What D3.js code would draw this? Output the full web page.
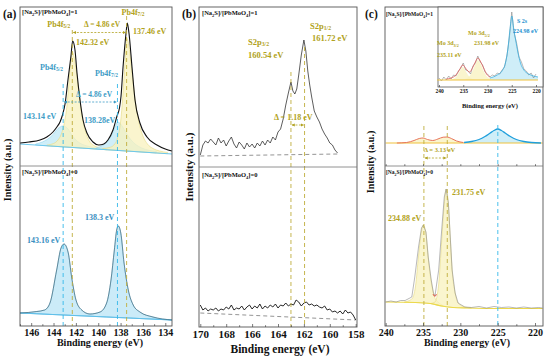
<!DOCTYPE html>
<html>
<head>
<meta charset="utf-8">
<script src="https://cdn.jsdelivr.net/npm/d3@7"></script>
<style>body{margin:0;background:#fff}</style>
</head>
<body>
<svg id="chart"></svg>
<script>
// ---- data: [binding energy (eV), intensity (a.u.)] ----
const aTicks = [146, 144, 142, 140, 138, 136, 134];
const aMinor = [147, 145, 143, 141, 139, 137, 135];
const bTicks = [170, 168, 166, 164, 162, 160, 158];
const bMinor = [169, 167, 165, 163, 161, 159];
const cTicks = [240, 235, 230, 225, 220];
const cMinor = [237.5, 232.5, 227.5, 222.5];
const insetTicks = [240, 235, 230, 225, 220];

const aCyanLines = [143.14, 138.28];
const aOliveLines = [142.32, 137.46];
const bOliveLines = [163.0, 161.95];
const cOliveLines = [234.88, 231.75];
const cCyanLines = [224.98];

// (a) upper, [Na2S]/[PbMoO4]=1
const aTopBase = [[147.0, 22], [133.4, 12]];
const aTopEnvelope = [[147.0,23],[146.2,24],[145.21,26],[144.6,29],[144.05,34],[143.7,39],[143.42,44],[143.2,51],
  [142.97,62],[142.71,86],[142.44,110],[142.29,125],[142.08,116],[141.9,93],[141.63,66],[141.36,46],[141.01,33],
  [140.47,24],[139.95,21],[139.5,22],[139.13,26],[138.68,36],[138.32,50],[138.1,58],[137.96,70],[137.78,99],
  [137.51,133],[137.4,143],[137.25,133],[136.98,99],[136.71,66],[136.27,43],[135.64,29],[134.75,21],[134.0,17],[133.4,15]];
const aTopYellow52 = [[144.6,21],[144.0,22.5],[143.6,26],[143.3,32],[143.0,45],[142.8,60],[142.6,86],[142.45,106],
  [142.32,114],[142.18,110],[142.0,98],[141.8,80],[141.6,62],[141.4,47],[141.1,33],[140.8,25],[140.4,20.5],[139.9,18.5],[139.2,17.5]];
const aTopCyan52 = [[145.6,22],[145.0,24],[144.5,27],[144.0,32],[143.6,37.5],[143.14,40],[142.7,37],[142.3,30],
  [141.9,25],[141.4,21.5],[140.8,19.5],[140.2,18]];
const aTopYellow72 = [[139.6,17.5],[139.0,18.5],[138.6,21],[138.3,27],[138.0,44],[137.8,70],[137.6,105],[137.46,128],
  [137.32,124],[137.12,108],[136.9,86],[136.65,62],[136.35,43],[136.0,30],[135.6,22],[135.1,17.5],[134.5,15],[133.8,13.5]];
const aTopCyan72 = [[140.2,18],[139.7,20],[139.2,24],[138.8,31],[138.5,39],[138.28,44],[138.0,42],[137.6,35],
  [137.2,28],[136.7,22],[136.1,18],[135.4,15.5],[134.8,14.5]];

// (a) lower, [Na2S]/[PbMoO4]=0
const aBotBase = [[147.0, 13], [133.4, 6]];
const aBotPeaks = [[147.0,13],[145.5,14.5],[144.8,16],[144.32,23],[143.72,56],[143.33,78],[143.06,82],[142.68,73],
  [142.38,49],[141.99,26],[141.48,16],[140.74,12],[139.84,14],[139.25,23],[138.86,46],[138.56,76],[138.35,96],
  [138.21,100],[137.98,93],[137.69,63],[137.31,36],[136.87,21],[136.27,14],[135.1,9],[133.4,6]];

// (b) upper and lower
const bTopBase = [[170.0, 11], [159.4, 13]];
const bTopSpectrum = [[170.0,12],[169.8,22],[169.6,26],[169.4,24],[169.2,28],[169.0,25],[168.8,22],[168.6,29],
  [168.4,24],[168.2,27],[168.0,21],[167.8,26],[167.6,30],[167.4,23],[167.2,19],[167.0,25],[166.8,22],[166.6,18],
  [166.4,24],[166.2,20],[166.0,23],[165.8,19],[165.6,24],[165.4,21],[165.2,26],[165.0,22],[164.8,27],[164.6,24],
  [164.4,30],[164.2,27],[164.0,35],[163.8,38],[163.6,48],[163.4,62],[163.2,74],[163.0,85],[162.85,76],[162.7,73],
  [162.55,78],[162.4,92],[162.2,112],[162.0,127],[161.85,116],[161.7,96],[161.55,82],[161.4,70],[161.2,56],
  [161.0,50],[160.8,45],[160.6,38],[160.4,33],[160.2,29],[160.0,24],[159.8,22],[159.6,17],[159.4,14]];
const bBotBase = [[170.0, 14], [158.0, 7]];
const bBotSpectrum = [[170.0,22],[169.8,17],[169.6,19],[169.4,16],[169.2,18],[169.0,17],[168.8,19],[168.6,16],
  [168.4,18],[168.2,17],[168.0,20],[167.8,18],[167.6,22],[167.4,17],[167.2,19],[167.0,18],[166.8,21],[166.6,17],
  [166.4,20],[166.2,22],[166.0,18],[165.8,21],[165.6,19],[165.4,23],[165.2,18],[165.0,21],[164.8,19],[164.6,22],
  [164.4,20],[164.2,23],[164.0,19],[163.8,22],[163.6,21],[163.4,24],[163.2,21],[163.0,23],[162.8,22],[162.6,27],
  [162.4,25],[162.2,21],[162.0,24],[161.8,25],[161.6,22],[161.4,23],[161.2,21],[161.0,22],[160.8,20],[160.6,19],
  [160.4,21],[160.2,17],[160.0,18],[159.8,15],[159.6,16],[159.4,14],[159.2,16],[159.0,13],[158.8,17],[158.6,14],
  [158.4,15],[158.2,12],[158.0,7]];

// (c) upper main
const cTopBase = [[240.0, 23], [219.0, 23]];
const cTopS2s = [[229.5,23.5],[228.5,24.5],[227.5,26.5],[226.7,29.5],[226.0,33],[225.5,35.5],[224.98,37],[224.5,35.5],
  [224.0,33],[223.3,29.5],[222.5,26.5],[221.5,24.5],[220.5,23.5],[219.2,23]];
const cTopMo = [[238.5,23],[237.2,23.5],[236.2,25.5],[235.5,27.5],[235.0,28],[234.4,26.5],[233.7,25.5],[233.0,27],
  [232.3,28.8],[231.8,29],[231.2,27.5],[230.5,25],[229.6,23.5]];

// (c) inset
const cInsetBase = [[240.4, 7], [219.6, 7]];
const cInsetRaw = [[240,9],[239.5,6],[239,10],[238.5,7],[238,11],[237.5,8],[237,12],[236.5,11],[236,16],[235.5,19],
  [235,24],[234.5,17],[234,16],[233.5,13],[233,21],[232.5,24],[232,31],[231.5,25],[231,22],[230.5,15],[230,13],
  [229.5,10],[229,12],[228.5,11],[228,14],[227.5,13],[227,17],[226.5,20],[226,31],[225.5,49],[225,75],[224.5,54],
  [224,44],[223.5,30],[223,25],[222.5,18],[222,16],[221.5,12],[221,14],[220.5,9],[220,13]];
const cInsetS2s = [[229.5,9],[228,12],[227,16],[226.3,24],[225.8,38],[225.4,56],[224.98,71],[224.6,58],[224.2,47],
  [223.7,34],[223.2,24],[222.5,17],[221.5,13],[220.5,11],[219.6,10]];
const cInsetMo = [[238.5,8],[237.5,9],[236.5,12],[235.8,17],[235.1,22],[234.4,18],[233.7,15],[233.0,20],[232.4,26],
  [232.0,29],[231.5,26],[230.8,19],[230.2,13],[229.5,10]];
const cInsetMo32 = [[237.5,7.5],[236.5,10],[235.8,15],[235.1,20],[234.4,15],[233.7,10],[233.0,8],[232.2,7]];
const cInsetMo52 = [[234.5,8],[233.7,11],[233.0,17],[232.4,24],[232.0,27],[231.5,24],[230.8,16],[230.2,11],[229.5,8.5],[228.8,7.5]];

// (c) lower
const cBotBase = [[240,24],[236,23.5],[234,22.5],[232.5,20],[231,18.5],[229,18],[225,17.5],[219,17.5]];
const cBotMo32 = [[237.5,24],[236.5,27],[236.0,40],[235.6,70],[235.2,95],[234.96,101],[234.6,92],[234.3,68],
  [233.9,44],[233.5,30],[233.0,24],[232.4,21]];
const cBotMo52 = [[234.0,22.5],[233.4,24],[232.9,42],[232.5,85],[232.15,122],[231.9,137],[231.6,122],[231.35,88],
  [231.1,56],[230.7,33],[230.3,23],[229.4,19],[228.5,18]];
const cBotFit = [[233.65,32],[233.5,30],[233.35,30],[233.2,32]];
const cBotData = [[240,24],[239.3,25],[238.6,24],[238,25.5],[237.4,25.5],[236.5,29],[236.1,49],[235.6,79],[235.2,98],
  [234.96,101],[234.6,94],[234.3,69],[233.9,46],[233.6,33],[233.4,30],[232.9,56],[232.5,96],[232.15,129],[231.9,137],
  [231.6,123],[231.35,89],[231.1,56],[230.7,33],[230.3,23],[229.4,19],[228.5,18.5],[227.5,19.5],[226.5,18],
  [225.5,19.5],[224.5,18.5],[223.5,19],[222.5,18],[221.5,19],[220.5,18],[219.5,18.5],[219,18]];

// ---- drawing ----
const SERIF = "'Liberation Serif','Times New Roman',serif";
const OLIVE = "#b1a220", OLIVE_LINE = "#bfae3c";
const CYAN_TXT = "#3d9cc6", CYAN_LINE = "#36b9ea", CYAN_FILL = "#bfe8f6";
const YEL_FILL = "#f8f2bd", YEL_STROKE = "#e6da80";

const svg = d3.select("#chart").attr("width", 550).attr("height", 359);
const defs = svg.append("defs");
function marker(id, color) {
  defs.append("marker").attr("id", id).attr("viewBox", "0 0 10 10")
    .attr("refX", 9).attr("refY", 5).attr("markerWidth", 4).attr("markerHeight", 4)
    .attr("orient", "auto-start-reverse")
    .append("path").attr("d", "M0,0L10,5L0,10z").attr("fill", color);
}
marker("arrOlive", OLIVE);
marker("arrCyan", CYAN_TXT);

const xa = d3.scaleLinear().domain([147.0, 133.4]).range([20, 172]);
const xb = d3.scaleLinear().domain([170.1, 157.9]).range([199, 357]);
const xc = d3.scaleLinear().domain([240.09, 218.93]).range([385, 543]);
const xi = d3.scaleLinear().domain([240, 220]).range([439, 536]);
const ya1 = d3.scaleLinear().domain([0, 159]).range([166, 7]);
const ya2 = d3.scaleLinear().domain([0, 160]).range([326, 166]);
const yb1 = d3.scaleLinear().domain([0, 160]).range([167, 7]);
const yb2 = d3.scaleLinear().domain([0, 160]).range([327, 167]);
const yc1 = d3.scaleLinear().domain([0, 159]).range([166, 7]);
const yc2 = d3.scaleLinear().domain([0, 160]).range([326, 166]);
const yi = d3.scaleLinear().domain([0, 80]).range([87, 7]);

function line(g, data, x, y, color, w, curve) {
  return g.append("path").datum(data)
    .attr("d", d3.line().x(d => x(d[0])).y(d => y(d[1])).curve(curve || d3.curveMonotoneX))
    .attr("fill", "none").attr("stroke", color).attr("stroke-width", w);
}
function fill(g, data, base, x, y, color, stroke) {
  const b = d3.scaleLinear().domain(base.map(d => d[0])).range(base.map(d => d[1]));
  return g.append("path").datum(data)
    .attr("d", d3.area().x(d => x(d[0])).y0(d => y(b(d[0]))).y1(d => y(d[1])).curve(d3.curveMonotoneX))
    .attr("fill", color).attr("fill-opacity", 0.75)
    .attr("stroke", stroke || "none").attr("stroke-width", 0.6);
}
function vdash(g, x, e, y0, y1, color) {
  g.append("line").attr("x1", x(e)).attr("x2", x(e)).attr("y1", y0).attr("y2", y1)
    .attr("stroke", color).attr("stroke-width", 0.9).attr("stroke-dasharray", "4,3");
}
function arrow(g, x0, x1, y, color, id) {
  g.append("line").attr("x1", x0).attr("x2", x1).attr("y1", y).attr("y2", y)
    .attr("stroke", color).attr("stroke-width", 0.8).attr("stroke-dasharray", "2,1.5")
    .attr("marker-start", `url(#${id})`).attr("marker-end", `url(#${id})`);
}
function rich(g, x, y, parts, size, color, anchor) {
  const t = g.append("text").attr("x", x).attr("y", y)
    .attr("font-family", SERIF).attr("font-weight", "bold").attr("font-size", size)
    .attr("fill", color || "#111").attr("text-anchor", anchor || "start")
    .attr("dominant-baseline", "middle");
  let down = false;
  parts.forEach(p => {
    const sub = Array.isArray(p);
    const s = t.append("tspan").text(sub ? p[0] : p);
    if (sub) { s.attr("font-size", size * 0.68).attr("dy", size * 0.28); down = true; }
    else if (down) { s.attr("dy", -size * 0.28); down = false; }
  });
  return t;
}
function ratio(v) { return ["[Na", ["2"], "S]/[PbMoO", ["4"], "]=" + v]; }
function bottomAxis(g, x, y, major, minor, size, pad, len) {
  const ax = g.append("g").attr("transform", `translate(0,${y})`)
    .call(d3.axisBottom(x).tickValues(major).tickSize(-len).tickPadding(pad).tickFormat(d3.format("d")));
  ax.select(".domain").remove();
  ax.selectAll("line").attr("stroke", "#444").attr("stroke-width", 0.7);
  ax.selectAll("text").attr("font-family", SERIF).attr("font-weight", "bold").attr("font-size", size).attr("fill", "#111");
  if (minor.length) {
    const mx = g.append("g").attr("transform", `translate(0,${y})`)
      .call(d3.axisBottom(x).tickValues(minor).tickSize(-len * 0.6).tickFormat(""));
    mx.select(".domain").remove();
    mx.selectAll("line").attr("stroke", "#444").attr("stroke-width", 0.7);
  }
  return ax;
}
function frame(g, x0, x1, y0, y1, ymid) {
  g.append("rect").attr("x", x0).attr("y", y0).attr("width", x1 - x0).attr("height", y1 - y0)
    .attr("fill", "none").attr("stroke", "#555").attr("stroke-width", 0.9);
  g.append("line").attr("x1", x0).attr("x2", x1).attr("y1", ymid).attr("y2", ymid)
    .attr("stroke", "#777").attr("stroke-width", 0.8);
}
function title(g, x, y, txt, size, rot) {
  const t = g.append("text").attr("text-anchor", "middle").attr("dominant-baseline", "middle")
    .attr("font-family", SERIF).attr("font-weight", "bold").attr("font-size", size).attr("fill", "#111").text(txt);
  if (rot) t.attr("transform", `translate(${x},${y}) rotate(-90)`);
  else t.attr("x", x).attr("y", y);
}

// ===== panel (a) =====
const ga = svg.append("g");
fill(ga, aTopCyan52, aTopBase, xa, ya1, CYAN_FILL, "#8fd3ef");
fill(ga, aTopYellow52, aTopBase, xa, ya1, YEL_FILL, YEL_STROKE);
fill(ga, aTopCyan72, aTopBase, xa, ya1, CYAN_FILL, "#8fd3ef");
fill(ga, aTopYellow72, aTopBase, xa, ya1, YEL_FILL, YEL_STROKE);
line(ga, aTopBase, xa, ya1, "#6cc8ee", 1, d3.curveLinear);
line(ga, aTopEnvelope, xa, ya1, "#111", 1.1);
fill(ga, aBotPeaks, aBotBase, xa, ya2, "#b9e4f5", "#3ba6d6");
line(ga, aBotBase, xa, ya2, "#5fc0ea", 1, d3.curveLinear);
line(ga, aBotPeaks, xa, ya2, "#333", 0.6).attr("stroke-opacity", 0.7);

aCyanLines.forEach(e => vdash(ga, xa, e, ya1(82), ya2(0), CYAN_LINE));
vdash(ga, xa, aOliveLines[0], ya1(136), ya2(0), OLIVE_LINE);
vdash(ga, xa, aOliveLines[1], ya1(150), ya2(0), OLIVE_LINE);

rich(ga, xa(137.46) - 5, 13, ["Pb4f", ["7/2"]], 8, OLIVE);
rich(ga, xa(142.32) - 25, 25, ["Pb4f", ["5/2"]], 8, OLIVE);
rich(ga, 84, 25, ["Δ = 4.86 eV"], 7.5, OLIVE);
arrow(ga, xa(142.32) + 1, xa(137.46) - 1, 32.5, OLIVE, "arrOlive");
rich(ga, 133, 32, ["137.46 eV"], 8, OLIVE);
rich(ga, 76, 43, ["142.32 eV"], 8, OLIVE);

rich(ga, 40, 68, ["Pb4f", ["5/2"]], 8, CYAN_TXT);
rich(ga, 95, 74, ["Pb4f", ["7/2"]], 8, CYAN_TXT);
rich(ga, 76, 95, ["Δ = 4.86 eV"], 7.5, CYAN_TXT);
arrow(ga, xa(143.14) + 1, xa(138.28) - 1, 102, CYAN_TXT, "arrCyan");
rich(ga, 23, 117, ["143.14 eV"], 8, CYAN_TXT);
rich(ga, 84, 121, ["138.28eV"], 8, CYAN_TXT);
rich(ga, 27, 241, ["143.16 eV"], 8, "#3a8fbf");
rich(ga, 85, 218, ["138.3 eV"], 8, "#3a8fbf");

frame(ga, 20, 172, 7, 326, 166);
rich(ga, 22, 13, ratio(1), 6.5);
rich(ga, 22, 173, ratio(0), 6.5);
bottomAxis(ga, xa, 326, aTicks, aMinor, 10, 3, 3);
title(ga, 100, 344, "Binding energy (eV)", 10);
title(ga, 9, 170, "Intensity (a.u.)", 10, true);
rich(ga, 3, 15, ["(a)"], 11.5);

// ===== panel (b) =====
const gb = svg.append("g");
line(gb, bTopBase, xb, yb1, "#888", 0.9, d3.curveLinear).attr("stroke-dasharray", "4,3");
line(gb, bTopSpectrum, xb, yb1, "#333", 0.8, d3.curveLinear);
line(gb, bBotBase, xb, yb2, "#888", 0.9, d3.curveLinear).attr("stroke-dasharray", "4,3");
line(gb, bBotSpectrum, xb, yb2, "#111", 0.9, d3.curveLinear);
vdash(gb, xb, bOliveLines[0], yb1(95), yb2(0), OLIVE_LINE);
vdash(gb, xb, bOliveLines[1], yb1(120), yb2(0), OLIVE_LINE);

rich(gb, 310, 27, ["S2p", ["1/2"]], 8.5, OLIVE);
rich(gb, 312, 39, ["161.72 eV"], 8.5, OLIVE);
rich(gb, 248, 43, ["S2p", ["3/2"]], 8.5, OLIVE);
rich(gb, 248, 56, ["160.54 eV"], 8.5, OLIVE);
rich(gb, 274, 118, ["Δ = 1.18 eV"], 8, OLIVE);
arrow(gb, xb(bOliveLines[0]) + 1, xb(bOliveLines[1]) - 1, 125, OLIVE, "arrOlive");

frame(gb, 199, 357, 7, 327, 167);
rich(gb, 202, 14, ratio(1), 6.5);
rich(gb, 202, 176, ratio(0), 6.5);
bottomAxis(gb, xb, 327, bTicks, bMinor, 11, 3, 3);
title(gb, 280, 350, "Binding energy (eV)", 11.5);
title(gb, 190, 167, "Intensity (a.u.)", 11, true);
rich(gb, 182, 15, ["(b)"], 11.5);

// ===== panel (c) =====
const gc = svg.append("g");
fill(gc, cTopS2s, cTopBase, xc, yc1, CYAN_FILL);
fill(gc, cTopMo, cTopBase, xc, yc1, YEL_FILL);
line(gc, cTopBase, xc, yc1, "#efc23c", 1.2, d3.curveLinear);
line(gc, cTopMo, xc, yc1, "#e8745a", 1);
line(gc, cTopS2s, xc, yc1, "#1f9fdc", 1.3);

fill(gc, cBotMo32, cBotBase, xc, yc2, YEL_FILL, YEL_STROKE);
fill(gc, cBotMo52, cBotBase, xc, yc2, YEL_FILL, YEL_STROKE);
line(gc, cBotBase, xc, yc2, "#ecd94a", 1.2);
line(gc, cBotData, xc, yc2, "#8a8a8a", 0.6, d3.curveLinear);
line(gc, cBotFit, xc, yc2, "#e0463c", 0.9);

cOliveLines.forEach(e => vdash(gc, xc, e, yc1(40), yc2(0), OLIVE_LINE));
cCyanLines.forEach(e => vdash(gc, xc, e, yc1(41), yc2(0), CYAN_LINE));
rich(gc, 424, 151, ["Δ = 3.13 eV"], 6.5, OLIVE);
arrow(gc, xc(cOliveLines[0]) + 1, xc(cOliveLines[1]) - 1, 158, OLIVE, "arrOlive");
rich(gc, 388, 219, ["234.88 eV"], 8, OLIVE);
rich(gc, 452, 193, ["231.75 eV"], 8, OLIVE);

frame(gc, 385, 543, 7, 326, 166);
bottomAxis(gc, xc, 166, [], cTicks.concat(cMinor), 1, 0, 3);
rich(gc, 386, 15, ratio(1), 5.5);
rich(gc, 386, 173, ratio(0), 5.5);
bottomAxis(gc, xc, 326, cTicks, cMinor, 10, 3, 3);
title(gc, 467, 344, "Binding energy (eV)", 10);
title(gc, 372, 162, "Intensity (a.u.)", 10, true);
rich(gc, 365, 15, ["(c)"], 11.5);

// inset
const gi = svg.append("g");
gi.append("rect").attr("x", 438).attr("y", 7).attr("width", 105).attr("height", 80)
  .attr("fill", "#fff").attr("stroke", "#555").attr("stroke-width", 0.8);
fill(gi, cInsetS2s, cInsetBase, xi, yi, CYAN_FILL);
fill(gi, cInsetMo32, cInsetBase, xi, yi, YEL_FILL);
fill(gi, cInsetMo52, cInsetBase, xi, yi, YEL_FILL);
line(gi, cInsetRaw, xi, yi, "#888", 0.6, d3.curveLinear);
line(gi, cInsetBase, xi, yi, "#efc23c", 1, d3.curveLinear);
line(gi, cInsetS2s, xi, yi, "#3aaee0", 0.8);
line(gi, cInsetMo, xi, yi, "#e0605a", 0.8);
rich(gi, 517, 22, ["S 2s"], 6, "#1b8fd0");
rich(gi, 513, 32, ["224.98 eV"], 6, "#1b8fd0");
rich(gi, 468, 34, ["Mo 3d", ["5/2"]], 6, OLIVE);
rich(gi, 474, 44, ["231.98 eV"], 6, OLIVE);
rich(gi, 437, 44, ["Mo 3d", ["3/2"]], 6, OLIVE);
rich(gi, 437, 56, ["235.11 eV"], 6, OLIVE);
bottomAxis(gi, xi, 87, insetTicks, [], 5.5, 2, 2);
title(gi, 490, 107, "Binding energy (eV)", 6.5);
</script>
</body>
</html>
